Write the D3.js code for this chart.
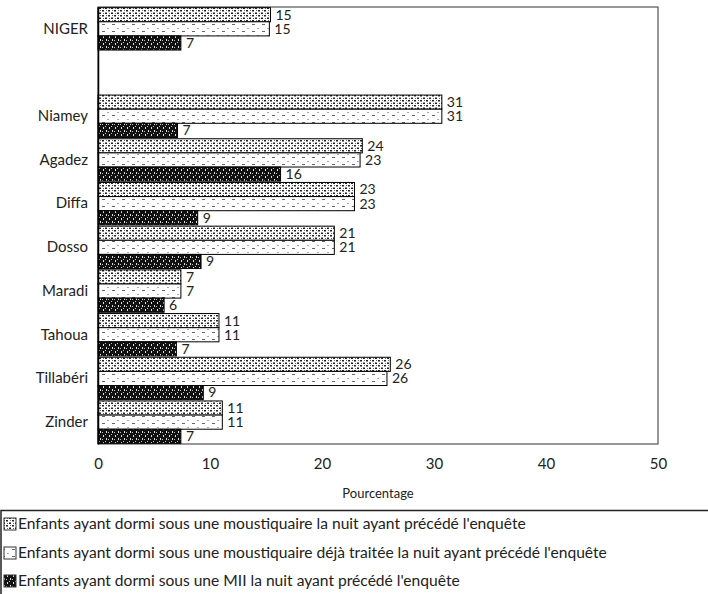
<!DOCTYPE html>
<html><head><meta charset="utf-8">
<script src="https://cdn.jsdelivr.net/npm/d3@7"></script>
<style>body{margin:0;background:#fff}svg{display:block}</style>
</head><body>
<script>
const categories = ["NIGER", " ", "Niamey", "Agadez", "Diffa", "Dosso", "Maradi", "Tahoua", "Tillabéri", "Zinder"];
const seriesNames = [
  "Enfants ayant dormi sous une moustiquaire la nuit ayant précédé l'enquête",
  "Enfants ayant dormi sous une moustiquaire déjà traitée la nuit ayant précédé l'enquête",
  "Enfants ayant dormi sous une MII la nuit ayant précédé l'enquête"
];
const moustiquaire = [15.4, null, 30.7, 23.6, 22.9, 21.1, 7.4, 10.8, 26.1, 11.1];
const traitee      = [15.3, null, 30.7, 23.4, 22.9, 21.1, 7.4, 10.8, 25.8, 11.1];
const mii          = [7.4,  null, 7.1, 16.3, 8.9, 9.2, 5.9, 7.0, 9.4, 7.4];
const labels1 = ["15", "", "31", "24", "23", "21", "7", "11", "26", "11"];
const labels2 = ["15", "", "31", "23", "23", "21", "7", "11", "26", "11"];
const labels3 = ["7", "", "7", "16", "9", "9", "6", "7", "9", "7"];
const xTicks = [0, 10, 20, 30, 40, 50];

(function(){
const W = 708, H = 594;
const font = "Lato, 'Open Sans', sans-serif";
const svg = d3.select("body").append("svg").attr("width", W).attr("height", H);

const defs = svg.append("defs");
const p1 = defs.append("pattern").attr("id","p1").attr("patternUnits","userSpaceOnUse").attr("width",6).attr("height",5);
p1.append("rect").attr("width",6).attr("height",5).attr("fill","#fff");
p1.append("rect").attr("x",0).attr("y",0).attr("width",2).attr("height",1.5).attr("fill","#222");
p1.append("rect").attr("x",3).attr("y",2.5).attr("width",2).attr("height",1.5).attr("fill","#222");
p1.append("rect").attr("x",4).attr("y",0).attr("width",1).attr("height",1).attr("fill","#666");
p1.append("rect").attr("x",1).attr("y",3).attr("width",1).attr("height",1).attr("fill","#666");
const p2 = defs.append("pattern").attr("id","p2").attr("patternUnits","userSpaceOnUse").attr("width",10).attr("height",7);
p2.append("rect").attr("width",10).attr("height",7).attr("fill","#fff");
p2.append("rect").attr("x",2).attr("y",3).attr("width",3).attr("height",1).attr("fill","#666");
p2.append("rect").attr("x",7).attr("y",0).attr("width",2).attr("height",1).attr("fill","#aaa");
const p3 = defs.append("pattern").attr("id","p3").attr("patternUnits","userSpaceOnUse").attr("width",6).attr("height",7);
p3.append("rect").attr("width",6).attr("height",7).attr("fill","#111");
p3.append("rect").attr("x",1).attr("y",1).attr("width",1).attr("height",2).attr("fill","#ddd");
p3.append("rect").attr("x",3).attr("y",0).attr("width",1).attr("height",1).attr("fill","#bbb");
p3.append("rect").attr("x",4).attr("y",4).attr("width",1).attr("height",2).attr("fill","#ddd");
p3.append("rect").attr("x",0).attr("y",5).attr("width",1).attr("height",1).attr("fill","#bbb");
const fills = ["url(#p1)","url(#p2)","url(#p3)"];

const pLeft = 98, pRight = 658, pTop = 7, pBottom = 444;
const x = d3.scaleLinear().domain([0, 50]).range([pLeft, pRight]);
const y = d3.scaleBand().domain(categories).range([pTop, pBottom]).paddingInner(0.03).paddingOuter(0.015);
const ySub = d3.scaleBand().domain([0,1,2]).range([0, y.bandwidth()]).padding(0);

svg.append("rect").attr("x", pLeft).attr("y", pTop).attr("width", pRight-pLeft).attr("height", pBottom-pTop)
  .attr("fill","none").attr("stroke","#333").attr("stroke-width",1);

const seriesVals = [moustiquaire, traitee, mii];
const seriesLabels = [labels1, labels2, labels3];
seriesVals.forEach((vals, s) => {
  const g = svg.append("g");
  categories.forEach((c, i) => {
    if (vals[i] == null) return;
    const yy = y(c) + ySub(s);
    g.append("rect").attr("x", x(0)).attr("y", yy).attr("width", x(vals[i]) - x(0)).attr("height", ySub.bandwidth())
      .attr("fill", fills[s]).attr("stroke","#000").attr("stroke-width",1);
    g.append("text").attr("x", x(vals[i]) + 5).attr("y", yy + ySub.bandwidth()/2).attr("dy","0.35em")
      .attr("font-family", font).attr("font-size", 14).attr("fill","#222").text(seriesLabels[s][i]);
  });
});

const ya = svg.append("g").attr("transform", `translate(${pLeft},0)`).call(d3.axisLeft(y).tickSize(0).tickPadding(10));
ya.select(".domain").attr("stroke","#000").attr("stroke-width",1.5);
ya.selectAll("text").attr("font-family", font).attr("font-size", 15).attr("fill","#222");

const xa = svg.append("g").attr("transform", `translate(0,${pBottom})`).call(d3.axisBottom(x).tickValues(xTicks).tickSize(0).tickPadding(14));
xa.select(".domain").remove();
xa.selectAll("text").attr("font-family", font).attr("font-size", 15).attr("fill","#222");

svg.append("text").attr("x", (pLeft+pRight)/2).attr("y", 498).attr("text-anchor","middle")
  .attr("font-family", font).attr("font-size", 13).attr("fill","#222").text("Pourcentage");

svg.append("rect").attr("x", 1).attr("y", 510.5).attr("width", 710).attr("height", 90).attr("fill","none").attr("stroke","#222").attr("stroke-width",1.5);
const legY = [524, 553, 581];
seriesNames.forEach((n, s) => {
  svg.append("rect").attr("x", 4).attr("y", legY[s]-6).attr("width", 12).attr("height", 12)
    .attr("fill", fills[s]).attr("stroke","#333").attr("stroke-width",1);
  svg.append("text").attr("x", 18).attr("y", legY[s]).attr("dy","0.35em")
    .attr("font-family", font).attr("font-size", 15.6).attr("fill","#222").text(n);
});
})();
</script>
</body></html>
